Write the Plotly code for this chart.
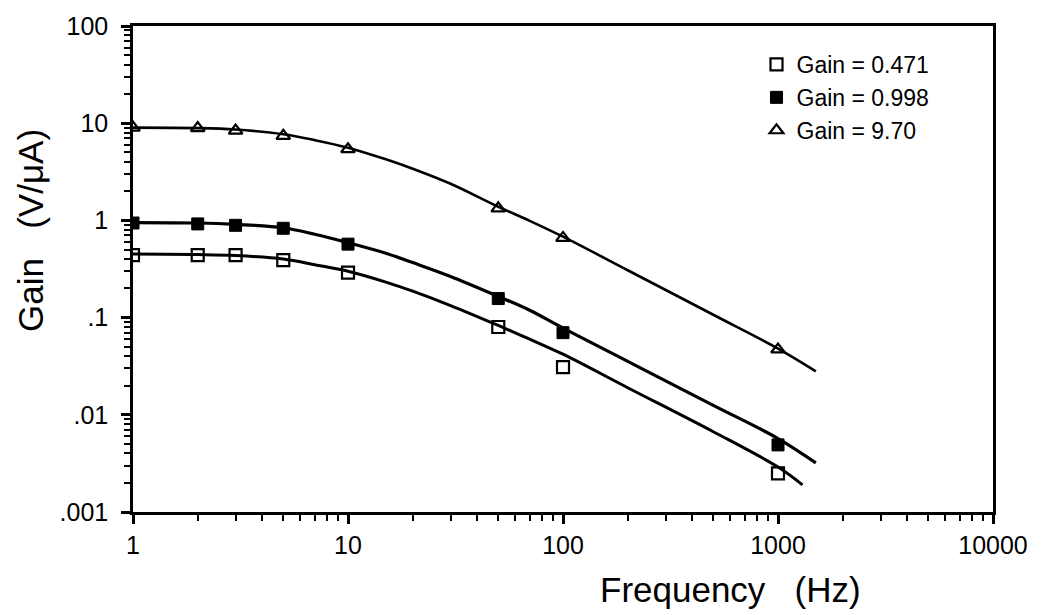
import plotly.graph_objects as go

# ---- data ----
freq_pts = [1, 2, 3, 5, 10, 50, 100, 1000]
gain_0471 = [0.44, 0.44, 0.44, 0.39, 0.29, 0.080, 0.031, 0.0025]
gain_0998 = [0.94, 0.92, 0.89, 0.83, 0.57, 0.157, 0.070, 0.0049]
gain_970 = [9.0, 8.9, 8.4, 7.4, 5.4, 1.33, 0.66, 0.047]

fit_freq_0471 = [1, 2, 3, 5, 7, 10, 15, 20, 30, 50, 70, 100, 200, 500, 1000, 1300]
fit_gain_0471 = [0.45, 0.445, 0.435, 0.40, 0.35, 0.30, 0.232, 0.187, 0.133, 0.083, 0.060, 0.042, 0.019, 0.0067, 0.0029, 0.0019]
fit_freq_0998 = [1, 2, 3, 5, 7, 10, 15, 20, 30, 50, 70, 100, 200, 500, 1000, 1500]
fit_gain_0998 = [0.95, 0.94, 0.91, 0.84, 0.72, 0.59, 0.46, 0.368, 0.265, 0.165, 0.119, 0.078, 0.0355, 0.0125, 0.0057, 0.0032]
fit_freq_970 = [1, 2, 3, 5, 7, 10, 15, 20, 30, 50, 70, 100, 200, 500, 1000, 1500]
fit_gain_970 = [9.0, 8.9, 8.6, 7.7, 6.7, 5.6, 4.25, 3.4, 2.38, 1.38, 0.99, 0.68, 0.307, 0.107, 0.048, 0.028]

legend_names = ["Gain = 0.471", "Gain = 0.998", "Gain = 9.70"]

y_tickvals = [0.001, 0.01, 0.1, 1, 10, 100]
y_ticktext = [".001", ".01", ".1", "1", "10", "100"]
x_tickvals = [1, 10, 100, 1000, 10000]
x_ticktext = ["1", "10", "100", "1000", "10000"]

FONT = "Liberation Sans, Arial, Helvetica, sans-serif"

fig = go.Figure()

# fitted curves
for fx, fy, w in [(fit_freq_0471, fit_gain_0471, 3),
                  (fit_freq_0998, fit_gain_0998, 3.2),
                  (fit_freq_970, fit_gain_970, 2.6)]:
    fig.add_trace(go.Scatter(x=fx, y=fy, mode="lines",
                             line=dict(color="black", width=w, shape="spline", smoothing=1.0),
                             showlegend=False, hoverinfo="skip"))

# data markers
fig.add_trace(go.Scatter(x=freq_pts, y=gain_0471, mode="markers", name=legend_names[0],
                         marker=dict(symbol="square-open", size=12, color="black", line=dict(width=2.2, color="black"))))
fig.add_trace(go.Scatter(x=freq_pts, y=gain_0998, mode="markers", name=legend_names[1],
                         marker=dict(symbol="square", size=12, color="black", line=dict(width=1, color="black"))))
fig.add_trace(go.Scatter(x=freq_pts, y=gain_970, mode="markers", name=legend_names[2],
                         marker=dict(symbol="triangle-up-open", size=12, color="black", line=dict(width=2.2, color="black"))))

minor_vals = []
for d in [0.001, 0.01, 0.1, 1, 10, 100, 1000]:
    for k in range(2, 10):
        minor_vals.append(d * k)

fig.update_layout(
    width=1045, height=615,
    margin=dict(l=133, r=52, t=22, b=103),
    paper_bgcolor="white", plot_bgcolor="white",
    font=dict(family=FONT, color="black", size=25),
    showlegend=True,
    legend=dict(x=0.725, y=0.965, xanchor="left", yanchor="top", bgcolor="rgba(0,0,0,0)",
                font=dict(size=23, family=FONT), tracegroupgap=0, itemwidth=30),
    xaxis=dict(type="log", range=[0, 4], showgrid=False, zeroline=False,
               showline=True, linecolor="black", linewidth=2.5, mirror=True,
               ticks="outside", ticklen=9, tickwidth=2.5, tickcolor="black",
               tickmode="array", tickvals=x_tickvals, ticktext=x_ticktext,
               tickfont=dict(size=25, family=FONT),
               minor=dict(tickmode="array", tickvals=[v for v in minor_vals if 1 < v < 10000],
                          ticks="outside", ticklen=6, tickwidth=2, tickcolor="black", showgrid=False)),
    yaxis=dict(type="log", range=[-3, 2], showgrid=False, zeroline=False,
               showline=True, linecolor="black", linewidth=2.5, mirror=True,
               ticks="outside", ticklen=9, tickwidth=2.5, tickcolor="black",
               tickmode="array", tickvals=y_tickvals, ticktext=y_ticktext,
               tickfont=dict(size=25, family=FONT), ticklabelstandoff=8,
               minor=dict(tickmode="array", tickvals=[v for v in minor_vals if 0.001 < v < 100],
                          ticks="outside", ticklen=6, tickwidth=2, tickcolor="black", showgrid=False)),
    annotations=[
        dict(text="Frequency\u00a0\u00a0\u00a0(Hz)", xref="paper", yref="paper", x=0.695, y=-0.159,
             xanchor="center", yanchor="middle", showarrow=False, font=dict(size=35, family=FONT)),
        dict(text="Gain\u00a0\u00a0\u00a0(V/\u03bcA)", xref="paper", yref="paper", x=-0.12, y=0.58,
             xanchor="center", yanchor="middle", textangle=-90, showarrow=False, font=dict(size=35, family=FONT)),
    ],
)

fig.write_html("out.html")
